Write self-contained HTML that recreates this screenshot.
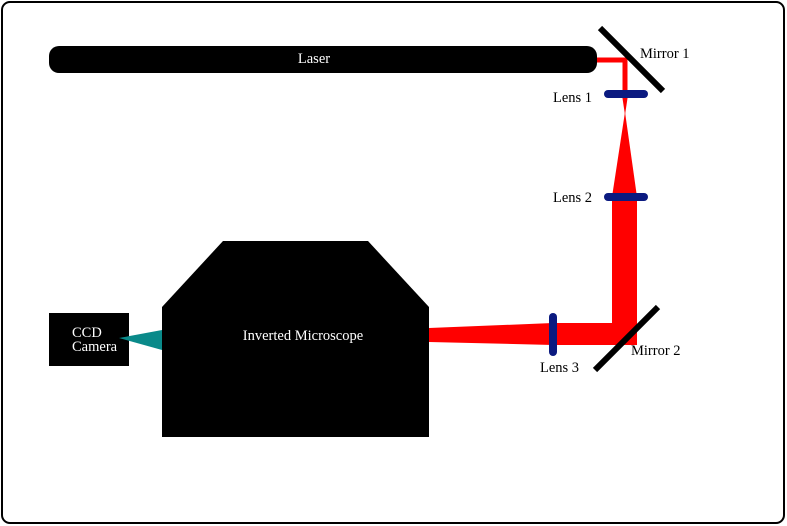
<!DOCTYPE html>
<html><head><style>
html,body{margin:0;padding:0;background:#fff;}
svg{display:block;}
text{font-family:"Liberation Serif",serif;font-size:14.5px;}
</style></head><body>
<svg width="787" height="526" viewBox="0 0 787 526" xmlns="http://www.w3.org/2000/svg">
<rect x="2" y="2" width="782" height="521" rx="8" fill="#fff" stroke="#000" stroke-width="2"/>
<polyline points="596,60 625,60 625,92" fill="none" stroke="#f00" stroke-width="5"/>
<polygon points="622,95 628,95 625,115" fill="#f00"/>
<polygon points="625,112 637,197 612,197" fill="#f00"/>
<rect x="612" y="197" width="25" height="148" fill="#f00"/>
<polygon points="429,328 553,323 637,323 637,345 553,345 429,342" fill="#f00"/>
<rect x="49" y="46" width="548" height="27" rx="10" fill="#000"/>
<text x="314" y="63" fill="#fff" text-anchor="middle">Laser</text>
<line x1="600" y1="28" x2="663" y2="91" stroke="#000" stroke-width="6"/>
<line x1="658" y1="307" x2="595" y2="370" stroke="#000" stroke-width="6"/>
<text x="640" y="58" fill="#000">Mirror 1</text>
<text x="631" y="355" fill="#000">Mirror 2</text>
<rect x="604" y="90" width="44" height="8" rx="4" fill="#0b1a80"/>
<rect x="604" y="193" width="44" height="8" rx="4" fill="#0b1a80"/>
<rect x="549" y="313" width="8" height="43" rx="4" fill="#0b1a80"/>
<text x="553" y="102" fill="#000">Lens 1</text>
<text x="553" y="202" fill="#000">Lens 2</text>
<text x="540" y="372" fill="#000">Lens 3</text>
<polygon points="223,241 368,241 429,307 429,437 162,437 162,307" fill="#000"/>
<text x="303" y="340" fill="#fff" text-anchor="middle">Inverted Microscope</text>
<rect x="49" y="313" width="80" height="53" fill="#000"/>
<text x="72" y="337" fill="#fff">CCD</text>
<text x="72" y="351" fill="#fff">Camera</text>
<polygon points="119,338 162,330 162,350" fill="#0a8a8a"/>
</svg>
</body></html>
